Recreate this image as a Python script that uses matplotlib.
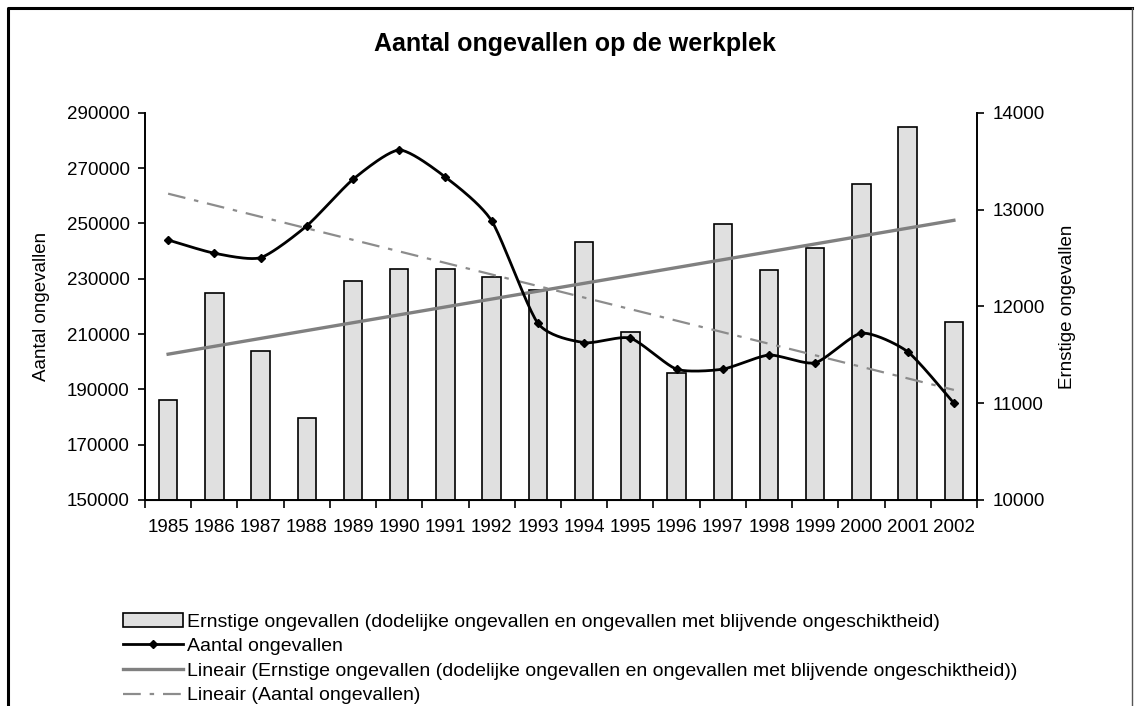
import numpy as np
import matplotlib
matplotlib.use("Agg")
import matplotlib.pyplot as plt
from matplotlib.lines import Line2D

plt.rcParams["font.family"] = ["Liberation Sans", "DejaVu Sans"]

jaren = [str(j) for j in range(1985, 2003)]

# ernstige ongevallen (rechter as)
ernstig = [11030, 12140, 11540, 10845, 12260, 12390, 12390, 12300, 12165,
           12665, 11730, 11310, 12855, 12380, 12600, 13260, 13850, 11840]

# aantal ongevallen (linker as)
aantal = [244000, 239200, 237600, 249100, 265900, 276500, 266700, 250900, 213900,
          206900, 208500, 197300, 197300, 202400, 199600, 210300, 203600, 185000]

lab_ernstig = "Ernstige ongevallen (dodelijke ongevallen en ongevallen met blijvende ongeschiktheid)"
lab_aantal = "Aantal ongevallen"

FS = 13.5


def smooth(x, y, n=24, k=9):
    # Bezier-gladde lijn door de punten (zoals Excel "vloeiende lijn")
    p = np.column_stack([x, y]).astype(float)
    p = np.vstack([p[0], p, p[-1]])
    out = []
    t = np.linspace(0, 1, n)[:, None]
    for i in range(1, len(p) - 2):
        p0, p1, p2, p3 = p[i - 1], p[i], p[i + 1], p[i + 2]
        c1 = p1 + (p2 - p0) / k
        c2 = p2 - (p3 - p1) / k
        seg = ((1 - t) ** 3) * p1 + 3 * ((1 - t) ** 2) * t * c1 + 3 * (1 - t) * t ** 2 * c2 + t ** 3 * p2
        out.append(seg if i == 1 else seg[1:])
    s = np.vstack(out)
    return s[:, 0], s[:, 1]


W, H = 1141, 706
fig = plt.figure(figsize=(W / 100, H / 100), dpi=100)
ax = fig.add_axes([145 / W, 1 - 500 / H, (977 - 145) / W, (500 - 112.7) / H])
ax2 = ax.twinx()
ax.set_zorder(ax2.get_zorder() + 1)
ax.patch.set_visible(False)

x = np.arange(len(jaren))

# staven en trendlijn op rechter as
ax2.bar(x, ernstig, width=0.4, color="#e0e0e0", edgecolor="black", linewidth=1.2, zorder=2)
k = np.polyfit(x, ernstig, 1)
ax2.plot(x, np.polyval(k, x), color="#808080", lw=2.4, zorder=3)

# lijn en trendlijn op linker as
k2 = np.polyfit(x, aantal, 1)
ax.plot(x, np.polyval(k2, x), color="#8c8c8c", lw=1.6, dashes=(8, 4, 2, 4), zorder=3)
sx, sy = smooth(x, aantal)
ax.plot(sx, sy, color="black", lw=2.0, zorder=4)
ax.plot(x, aantal, ls="none", marker="D", color="black", ms=4.5, zorder=5)

ax.set_xlim(-0.5, len(jaren) - 0.5)
ax.set_ylim(150000, 290000)
ax.set_yticks(range(150000, 290001, 20000))
ax2.set_ylim(10000, 14000)
ax2.set_yticks(range(10000, 14001, 1000))

ax.set_xticks(np.arange(-0.5, len(jaren), 1))
ax.set_xticklabels([])
ax.set_xticks(x, minor=True)
ax.set_xticklabels(jaren, minor=True, fontsize=FS)
ax.tick_params(axis="x", which="minor", length=0, pad=14)
ax.tick_params(axis="x", which="major", length=6, width=1.2)
ax.tick_params(axis="y", labelsize=FS, length=5, width=1.2, pad=6)
ax2.tick_params(axis="y", labelsize=FS, length=5, width=1.2, pad=6)

for a in (ax, ax2):
    for s in a.spines.values():
        s.set_visible(False)
    a.spines["bottom"].set_visible(True)
ax.spines["left"].set_visible(True)
ax2.spines["right"].set_visible(True)
for s in (ax.spines["left"], ax.spines["bottom"], ax2.spines["right"]):
    s.set_linewidth(1.4)

ax.set_ylabel("Aantal ongevallen", fontsize=FS, labelpad=12)
ax2.set_ylabel("Ernstige ongevallen", fontsize=FS, labelpad=10)

fig.text(575 / W, 1 - 44 / H, "Aantal ongevallen op de werkplek", ha="center", va="center",
         fontsize=18, fontweight="bold")

handles = [
    plt.Rectangle((0, 0), 1, 1, facecolor="#e0e0e0", edgecolor="black", lw=1.2),
    Line2D([], [], color="black", lw=2.0, marker="D", ms=4.5),
    Line2D([], [], color="#808080", lw=2.4),
    Line2D([], [], color="#8c8c8c", lw=1.6, dashes=(8, 4, 2, 4)),
]
labels = [lab_ernstig, lab_aantal, "Lineair (" + lab_ernstig + ")", "Lineair (" + lab_aantal + ")"]
fig.legend(handles, labels, loc="upper left", bbox_to_anchor=(123 / W, 1 - 613 / H),
           frameon=False, fontsize=14, handlelength=3.1, handletextpad=0.2,
           labelspacing=0.36, borderaxespad=0, borderpad=0)

# kader rond de grafiek
fig.add_artist(Line2D([8 / W, 8 / W, 1132 / W], [0, 1 - 8 / H, 1 - 8 / H],
                      transform=fig.transFigure, color="black", lw=2.2))
fig.add_artist(Line2D([1132 / W, 1132 / W], [0, 1 - 8 / H],
                      transform=fig.transFigure, color="#555555", lw=1.0))

fig.savefig("out.png", dpi=100)
